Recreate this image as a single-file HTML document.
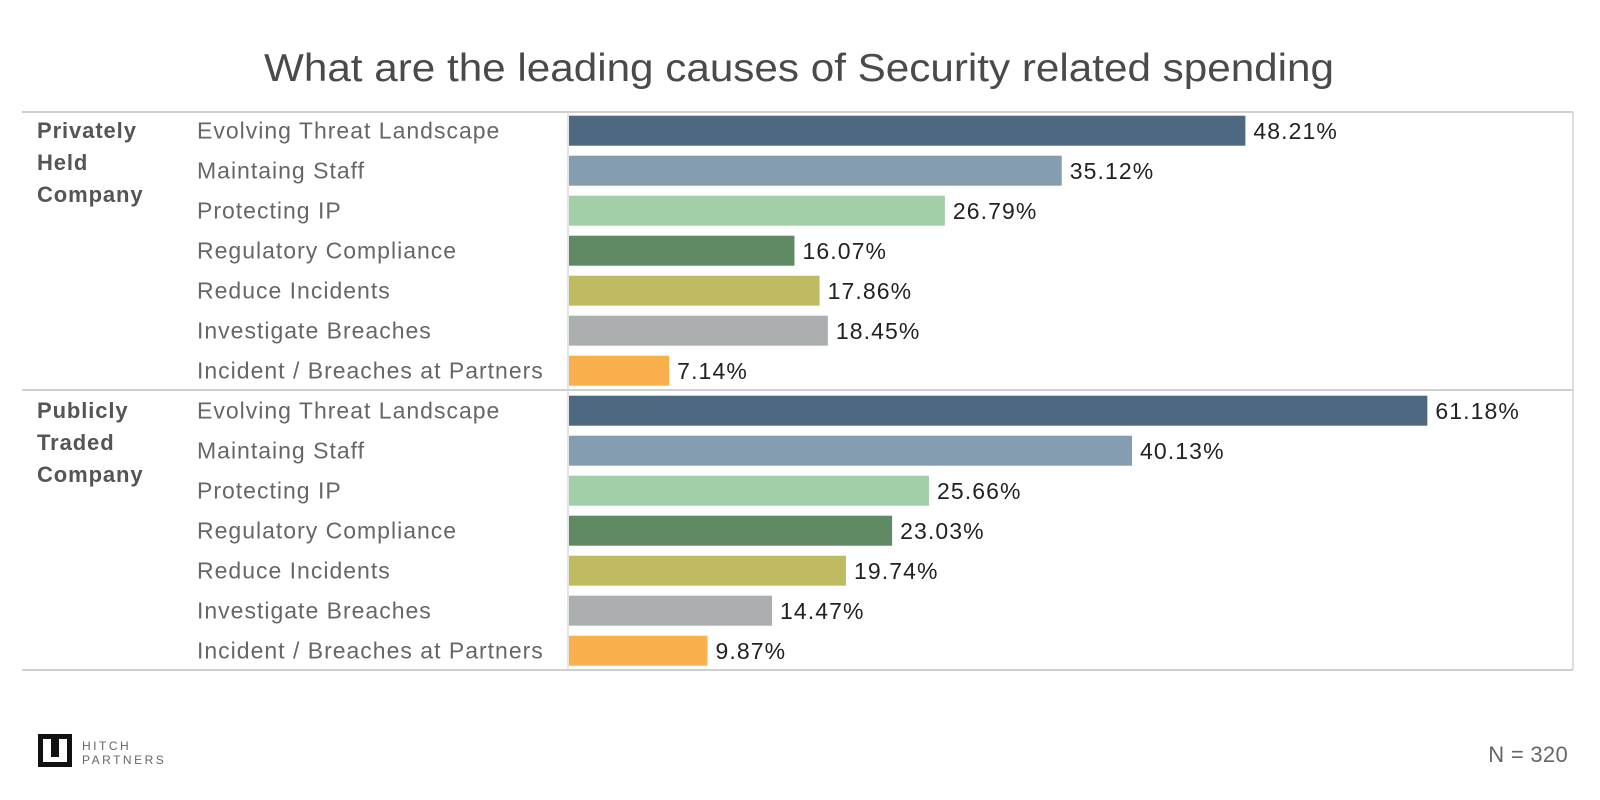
<!DOCTYPE html>
<html><head><meta charset="utf-8"><style>
html,body{margin:0;padding:0;background:#fff;}
svg{display:block;font-family:"Liberation Sans",sans-serif;}
</style></head><body>
<svg id="chart" width="1600" height="800" viewBox="0 0 1600 800">
<text x="799" y="81" font-size="39" fill="#4a4a4a" text-anchor="middle" textLength="1070" lengthAdjust="spacingAndGlyphs">What are the leading causes of Security related spending</text>
<g id="frame">
<line x1="22" y1="112" x2="1573" y2="112" stroke="#cfcfcf" stroke-width="2"/>
<line x1="22" y1="390" x2="1573" y2="390" stroke="#cfcfcf" stroke-width="2"/>
<line x1="22" y1="670" x2="1573" y2="670" stroke="#cfcfcf" stroke-width="2"/>
<line x1="568" y1="112" x2="568" y2="670" stroke="#dcdcdc" stroke-width="1.5"/>
<line x1="1573" y1="112" x2="1573" y2="670" stroke="#d4d4d4" stroke-width="1.5"/>
</g>
<g id="groups"></g>
<g id="bars"></g>
<g>
<path d="M38 734 H72 V767 H38 Z M43 739 V762 H67 V739 H59 V757 H51 V739 Z" fill="#111" fill-rule="evenodd"/>
<path d="M47 743 V760 H63 V743" fill="none" stroke="#fff" stroke-width="2"/>
<text x="82" y="750" font-size="12" fill="#666" letter-spacing="2.5">HITCH</text>
<text x="82" y="764" font-size="12" fill="#666" letter-spacing="2.5">PARTNERS</text>
</g>
<text x="1568" y="762" font-size="22" fill="#666" text-anchor="end" letter-spacing="0.3">N = 320</text>
</svg>
<script>
const groups = [["Privately","Held","Company"],["Publicly","Traded","Company"]];
const categories = ["Evolving Threat Landscape","Maintaing Staff","Protecting IP","Regulatory Compliance","Reduce Incidents","Investigate Breaches","Incident / Breaches at Partners"];
const privateValues = [48.21,35.12,26.79,16.07,17.86,18.45,7.14];
const publicValues = [61.18,40.13,25.66,23.03,19.74,14.47,9.87];
const colors = ["#4e6882","#849db1","#a2cea8","#5f8a63","#bfbb60","#abafaf","#f9b04c"];

const NS = "http://www.w3.org/2000/svg";
const x0 = 569, pxPer = 14.03;
function xScale(v){ return x0 + v*pxPer; }
function yCenter(g,i){ return 130.7 + g*280 + i*40; }
const series = [privateValues, publicValues];
const gG = document.getElementById('groups');
const gB = document.getElementById('bars');
function mk(tag, attrs, parent){ const e=document.createElementNS(NS,tag); for(const k in attrs) e.setAttribute(k,attrs[k]); parent.appendChild(e); return e; }
groups.forEach((lines,g)=>{
  lines.forEach((ln,j)=>{
    const t = mk('text',{x:37,y:138+g*280+j*32,'font-size':22,'font-weight':'bold',fill:'#555','letter-spacing':0.9},gG);
    t.textContent = ln;
    
    
  });
  categories.forEach((c,i)=>{
    const cy = yCenter(g,i);
    const t = mk('text',{x:197,y:cy+8,'font-size':23,fill:'#666','letter-spacing':1.0},gG);
    t.textContent = c;
    
    
    const v = series[g][i];
    const r = mk('rect',{x:x0,y:cy-15,width:xScale(v)-x0,height:30,fill:colors[i]},gB);
    
    
    const l = mk('text',{x:xScale(v)+8,y:cy+8.5,'font-size':23,fill:'#222','letter-spacing':1.1},gB);
    l.textContent = v.toFixed(2)+'%';
    
    
  });
});
</script>
</body></html>
